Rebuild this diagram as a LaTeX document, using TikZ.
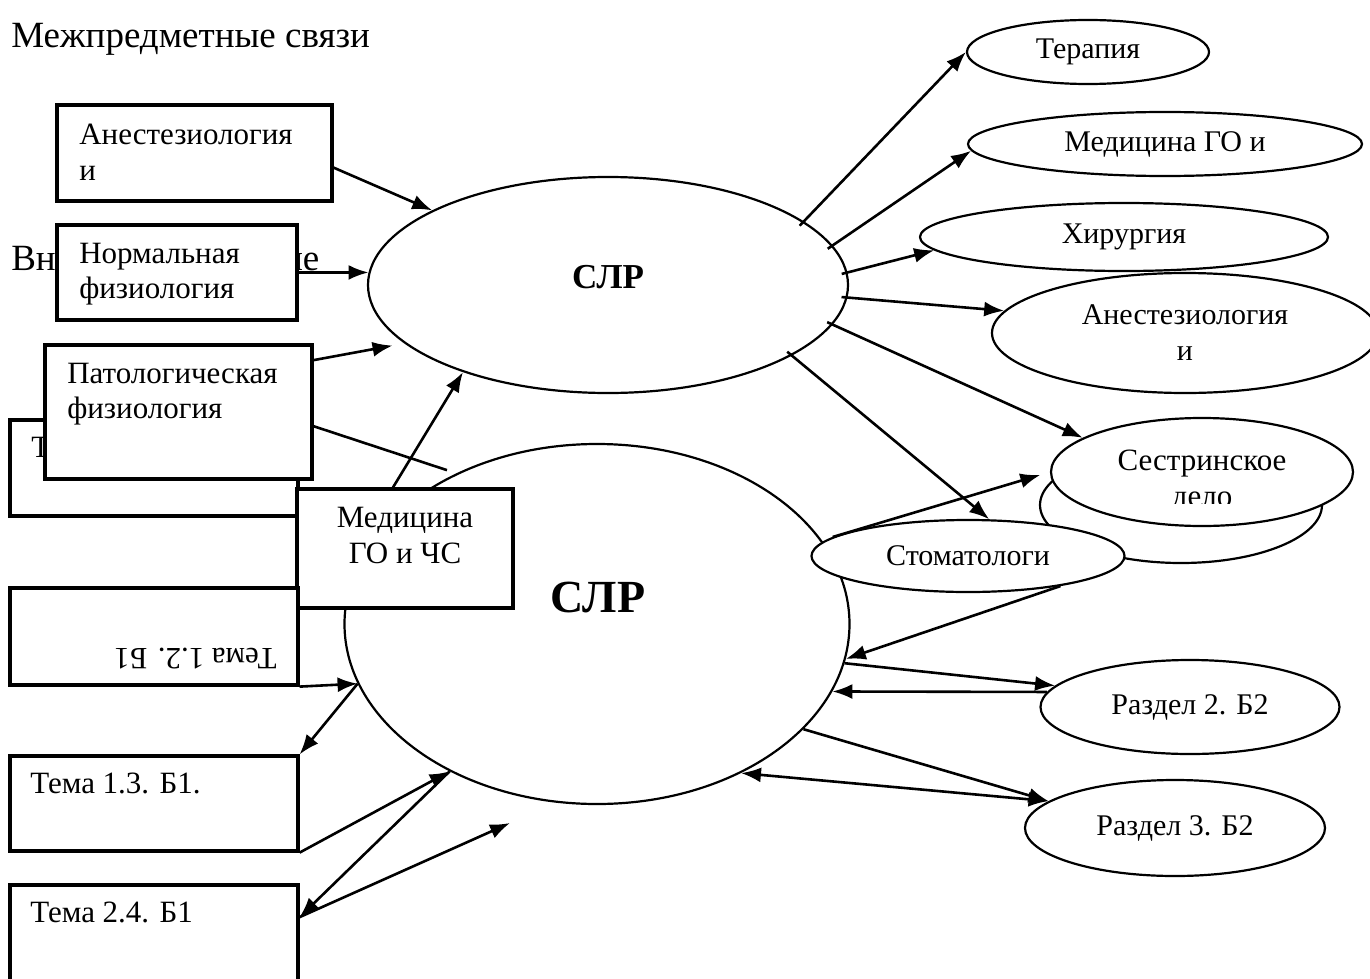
\documentclass[tikz,border=0pt]{standalone}
\usepackage{fontspec}
\setmainfont{Liberation Serif}
\usetikzlibrary{shapes.geometric, arrows.meta}
\tikzset{%
  every box/.style={
    rectangle,
    draw,
    fill=white,
    line width=3.2pt,
    inner sep=0pt
  },
  box label/.style={
    anchor=base west,
    inner sep=0pt,
    align=left,
    font=\fontsize{31}{36}\selectfont
  },
  every oval/.style={
    ellipse,
    draw,
    fill=white,
    line width=2.2pt,
    inner sep=0pt,
    align=center,
    font=\fontsize{30}{36}\selectfont
  },
  heading/.style={
    anchor=base west,
    inner sep=0pt,
    font=\fontsize{37}{44}\selectfont
  },
  hub label/.style={
    inner sep=0pt,
    font=\bfseries\fontsize{35}{42}\selectfont
  },
}

\begin{document}
\begin{tikzpicture}[x=1pt, y=-1pt, >={Latex[length=20pt,width=15pt]}, line width=2.6pt]
        \fill [white] (0,0) rectangle (1370,979);
        \useasboundingbox (0,0) rectangle (1370,979);

        %%%%%%%%%%%%%%%%%%%%%%%%%%%%%%%%%%%%%%%%%%%%
        % Headings
        %%%%%%%%%%%%%%%%%%%%%%%%%%%%%%%%%%%%%%%%%%%%
        \node [heading] (title) at (10,48) {Межпредметные связи};
        \node [heading] (inner) at (10,270) {Внутрипредметные};

        %%%%%%%%%%%%%%%%%%%%%%%%%%%%%%%%%%%%%%%%%%%%
        % Hubs
        %%%%%%%%%%%%%%%%%%%%%%%%%%%%%%%%%%%%%%%%%%%%
        \node [every oval, minimum width=505pt, minimum height=360pt] (slr2) at (597,624) {};
        \node [hub label, font=\bfseries\fontsize{46}{52}\selectfont] (slr2-text) at (598,597) {СЛР};

        \node [every oval, minimum width=480pt, minimum height=216pt] (slr1) at (608,285) {};
        \node [hub label] (slr1-text) at (608,277) {СЛР};

        %%%%%%%%%%%%%%%%%%%%%%%%%%%%%%%%%%%%%%%%%%%%
        % Left boxes
        %%%%%%%%%%%%%%%%%%%%%%%%%%%%%%%%%%%%%%%%%%%%

        % Drawing and labeling (base = last line)
        \node [every box, minimum width=275pt, minimum height=96pt] (anest) at (194.5,153) {};
        \node [box label] (anest-text) at (78,180) {Анестезиология\\и};

        \node [every box, minimum width=240pt, minimum height=95pt] (norm) at (177,272.5) {};
        \node [box label, font=\fontsize{31}{35}\selectfont] (norm-text) at (78,298) {Нормальная\\физиология};

        \node [every box, minimum width=288pt, minimum height=96pt] (tema11) at (154,468) {};
        \node [box label] (tema11-text) at (30,457) {Т};

        \node [every box, minimum width=267pt, minimum height=134pt] (patho) at (178.5,412) {};
        \node [box label, font=\fontsize{31}{35}\selectfont] (patho-text) at (66,418) {Патологическая\\физиология};

        \node [every box, minimum width=216pt, minimum height=119pt] (medgo) at (405,548.5) {};
        \node [box label, anchor=base, align=center] (medgo-text) at (405,563) {Медицина\\ГО и ЧС};

        \foreach \name/\y/\h in {tema12/636.5/97, tema13/803.5/95, tema24/935/100}
            \node [every box, minimum width=288pt, minimum height=\h pt] (\name) at (154,\y) {};

        \node [box label, rotate=180] (tema12-text) at (278,648) {Тема 1.2. Б1};
        \node [box label] (tema13-text) at (29,793) {Тема 1.3. Б1.};
        \node [box label] (tema24-text) at (29,922) {Тема 2.4. Б1};

        %%%%%%%%%%%%%%%%%%%%%%%%%%%%%%%%%%%%%%%%%%%%
        % Right ovals
        %%%%%%%%%%%%%%%%%%%%%%%%%%%%%%%%%%%%%%%%%%%%
        \node [every oval, minimum width=242pt, minimum height=64pt] (therapy) at (1088,52) {Терапия};
        \node [every oval, minimum width=394pt, minimum height=64pt] (civil) at (1165,144) {Медицина ГО и};
        \node [every oval, minimum width=408pt, minimum height=68pt] (surgery) at (1124,237) {Хирургия};
        \node [every oval, minimum width=386pt, minimum height=120pt] (anaest) at (1185,333) {Анестезиология\\и};

        \node [every oval, minimum width=282pt, minimum height=116pt] (nurse-back) at (1181,505) {};
        \node [every oval, minimum width=302pt, minimum height=108pt] (nurse) at (1202,472) {};
        \begin{scope}
            \clip (1100,430) rectangle (1310,503);
            \node [box label, anchor=base, align=center] (nurse-text) at (1202,506) {Сестринское\\дело};
        \end{scope}

        \node [every oval, minimum width=313pt, minimum height=72pt] (dental) at (968,556) {Стоматологи};
        \node [every oval, minimum width=299pt, minimum height=94pt] (sect2) at (1190,707) {Раздел 2. Б2};
        \node [every oval, minimum width=300pt, minimum height=96pt] (sect3) at (1175,828) {Раздел 3. Б2};

        %%%%%%%%%%%%%%%%%%%%%%%%%%%%%%%%%%%%%%%%%%%%
        % Connecting
        %%%%%%%%%%%%%%%%%%%%%%%%%%%%%%%%%%%%%%%%%%%%

        % Left boxes to hubs
        \draw [->] (anest.-6) -- (slr1.157);
        \draw [->] (norm.east) -- (slr1.177);
        \draw [->, shorten >=12pt] (patho.21) -- (slr1.196);
        \draw [shorten >=10pt] (patho.-6) -- (slr2.133);
        \draw [->] ([xshift=-12pt]medgo.north) -- (slr1.211);

        % Topics around the lower hub
        \coordinate (tip-24) at (510,823);
        \draw [->] (tema12.south east) -- (slr2.194);
        \draw [->] (slr2.194) -- (tema13.north east);
        \draw [->] (tema13.south east) -- (slr2.225);
        \draw [->] (slr2.225) -- (tema24.7);
        \draw [->] (tema24.7) -- (tip-24);

        % Upper hub to disciplines
        \foreach \a/\b in {18/therapy.west, 10/civil.182, 3/surgery.184, 357/anaest.173, 350/nurse.164, 339/dental.60}
            \draw [->, shorten <=-6pt] (slr1.\a) -- (\b);

        % Lower hub and sections
        \draw [->, shorten >=10pt] (dental.172) -- (nurse.west);
        \draw [->] (dental.342) -- (slr2.352);
        \draw [->] (slr2.351) -- (sect2.171);
        \draw [->] (sect2.174) -- (slr2.344);
        \draw [->] (slr2.333) -- (sect3.168);
        \draw [<->] (slr2.314) -- (sect3.168);
\end{tikzpicture}
\end{document}
